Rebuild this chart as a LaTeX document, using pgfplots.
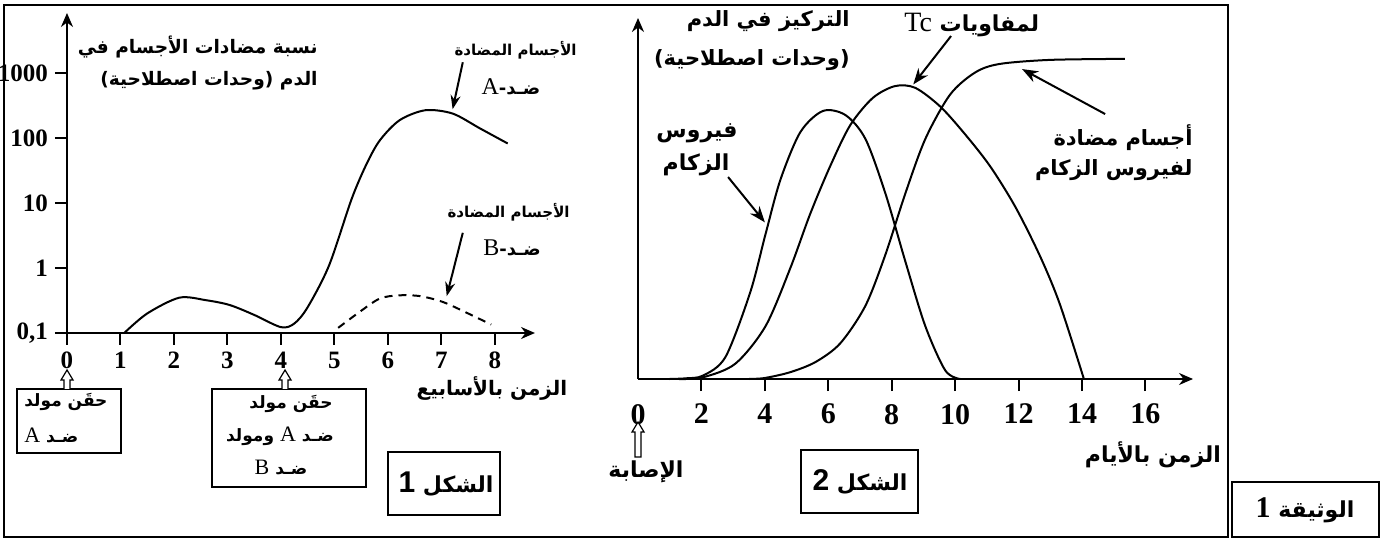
\documentclass[border=0pt]{standalone}
\usepackage{pgfplots}
\pgfplotsset{compat=1.18}
\usetikzlibrary{arrows.meta}
\usepackage{fontspec}
\setmainfont{Liberation Serif}
\newfontfamily\arfont[Script=Arabic]{DejaVu Sans}
\newfontfamily\digitsans{Liberation Sans}
\TeXXeTstate=1
\newcommand{\ar}[1]{{\arfont\bfseries\beginR #1\endR}}
\newcommand{\fs}[1]{\fontsize{#1}{#1}\selectfont}
\newcommand{\lat}[1]{{\rmfamily\mdseries #1}}

\begin{document}
\begin{tikzpicture}
% page = the 1386 x 539 pixel grid of the reference, 1 px = 0.5pt
\path[use as bounding box] (0pt,0pt) rectangle (693pt,-269.5pt);

% ---- figure 1: antibodies (log scale, weeks)
\begin{axis}[
  at={(33.5pt,-166.5pt)}, anchor=south west,
  width=234pt, height=160pt, scale only axis,
  xmin=0, xmax=8.75, ymode=log, ymin=0.1, ymax=8500,
  axis lines=left,
  axis line style={line width=1pt, -{Stealth[length=7pt,width=6pt]}},
  xtick={0,1,2,3,4,5,6,7,8},
  xticklabels={0,1,2,3,4,5,6,7,8},
  ytick={0.1,1,10,100,1000},
  yticklabels={0{,}1,1,10,100,1000},
  yminorticks=false,
  tick align=outside, major tick length=6pt,
  tick style={line width=1pt, black},
  ticklabel style={font=\fs{12.5}\bfseries},
  clip=false,
]
\addplot[smooth, line width=1pt] coordinates {
  (1.07,0.1) (1.5,0.2) (2.1,0.35) (2.6,0.32) (3.04,0.27) (3.5,0.19)
  (4.0,0.123) (4.25,0.14) (4.5,0.25) (4.9,1.1) (5.32,11.5) (5.6,40)
  (5.85,93) (6.22,190) (6.7,270) (7.21,240) (7.72,142) (8.24,83)};
\addplot[smooth, line width=1pt, dash pattern=on 4pt off 3pt] coordinates {
  (5.07,0.12) (5.5,0.22) (5.85,0.34) (6.2,0.38) (6.6,0.37) (7.03,0.3)
  (7.5,0.2) (7.93,0.135)};
\draw[line width=1pt, -{Stealth[length=7pt,width=5pt]}]
  (axis cs:7.4,1480) -- (axis cs:7.21,280);
\draw[line width=1pt, -{Stealth[length=7pt,width=5pt]}]
  (axis cs:7.4,3.5) -- (axis cs:7.1,0.37);
\end{axis}

% ---- figure 2: concentrations (days)
\begin{axis}[
  at={(319pt,-189.5pt)}, anchor=south west,
  width=277.5pt, height=180.5pt, scale only axis,
  xmin=0, xmax=17.5, ymin=0, ymax=10.6,
  axis lines=left,
  axis line style={line width=1pt, -{Stealth[length=7pt,width=6pt]}},
  xtick={2,4,6,8,10,12,14,16},
  xticklabels={2,4,6,8,10,12,14,16},
  extra x ticks={0}, extra x tick labels={0},
  extra x tick style={major tick length=0pt, xticklabel style={yshift=-6pt}},
  ytick=\empty,
  tick align=outside, major tick length=6pt,
  tick style={line width=1pt, black},
  ticklabel style={font=\fs{15}\bfseries},
  xticklabel style={yshift=-3pt},
  clip=false,
]
\addplot[smooth, line width=1pt] coordinates {
  (1.0,0) (1.5,0.02) (2.05,0.1) (2.76,0.65) (3.54,2.55) (4.02,4.25)
  (4.49,5.85) (5.12,7.25) (5.83,7.87) (6.54,7.75) (7.17,7.05) (7.8,5.45)
  (8.43,3.45) (9.06,1.55) (9.69,0.25) (10.16,0)};
\addplot[smooth, line width=1pt] coordinates {
  (1.3,0) (2.05,0.05) (3.07,0.45) (4.02,1.55) (4.8,3.25) (5.43,4.85)
  (6.06,6.25) (6.69,7.45) (7.4,8.25) (8.1,8.6) (8.74,8.55) (9.53,8.0)
  (10.3,7.2) (11.1,6.25) (11.9,5.05) (12.68,3.6) (13.3,2.2) (14.06,0)};
\addplot[smooth, line width=1pt] coordinates {
  (3.5,0) (4.0,0.03) (4.8,0.2) (5.6,0.5) (6.38,1.05) (7.17,2.15)
  (7.8,3.65) (8.43,5.45) (9.06,7.05) (9.84,8.35) (10.63,9.0) (11.4,9.25)
  (13,9.37) (15.35,9.4)};
\draw[line width=1pt, -{Stealth[length=8pt,width=6pt]}]
  (axis cs:9.87,10.07) -- (axis cs:8.68,8.65);
\draw[line width=1pt, -{Stealth[length=8pt,width=6pt]}]
  (axis cs:2.84,5.93) -- (axis cs:4.0,4.6);
\draw[line width=1pt, -{Stealth[length=8pt,width=6pt]}]
  (axis cs:14.73,7.78) -- (axis cs:12.11,9.1);
\end{axis}

% ---- frames and texts (pixel grid of the reference)
\begin{scope}[x=0.5pt, y=-0.5pt, every node/.style={inner sep=0pt}]
\draw[line width=1pt] (4,5) rectangle (1228,537);
\draw[line width=1pt] (1232,482) rectangle (1379,537);
\node[font=\fs{11}] at (1305,510) {\ar{الوثيقة {\rmfamily\fs{15}1}}};

% figure 1 texts
\node[anchor=east, align=right, font=\fs{9.3}] at (318,63)
  {\ar{نسبة مضادات الأجسام في}\\[6pt]\ar{الدم (\kern0pt وحدات اصطلاحية\kern0pt)}};
\node[anchor=east, font=\fs{7.5}] at (577,50) {\ar{الأجسام المضادة}};
\node[font=\fs{9}] at (511,87) {\ar{ضـد\kern0pt-\kern0pt\lat{\fs{12}A}}};
\node[anchor=east, font=\fs{7.5}] at (570,212) {\ar{الأجسام المضادة}};
\node[font=\fs{9}] at (512,248) {\ar{ضـد\kern0pt-\kern0pt\lat{\fs{12}B}}};
\node[font=\fs{10}] at (492,388) {\ar{الزمن بالأسابيع}};

\draw[line width=0.7pt] (17,389) rectangle (121,453);
\node[anchor=west, font=\fs{8.5}] at (24,402) {\ar{حقَن مولد}};
\node[anchor=west, font=\fs{8.5}] at (24,435) {\ar{ضـد \lat{\fs{11}A}}};
\draw[line width=0.7pt] (212,389) rectangle (366,487);
\node[font=\fs{8.5}] at (291,404) {\ar{حقَن مولد}};
\node[font=\fs{8.5}] at (280,436) {\ar{ضـد \lat{\fs{11}A} ومولد}};
\node[font=\fs{8.5}] at (281,468) {\ar{ضـد \lat{\fs{11}B}}};
\foreach \xa in {67,285}{
  \draw[line width=0.6pt, fill=white] (\xa-3,389) -- (\xa-3,380) -- (\xa-6,380)
    -- (\xa,370) -- (\xa+6,380) -- (\xa+3,380) -- (\xa+3,389);
}
\draw[line width=1pt] (388,452) rectangle (500,515);
\node[font=\fs{11}] at (446,484) {\ar{الشكل {\digitsans\fs{15}1}}};

% figure 2 texts
\node[anchor=east, align=right, font=\fs{10.5}] at (850,41)
  {\ar{التركيز في الدم}\\[8pt]\ar{(\kern0pt وحدات اصطلاحية\kern0pt)}};
\node[anchor=west, font=\fs{11}] at (904,25) {\ar{لمفاويات \lat{\fs{14}Tc}}};
\node[font=\fs{11}] at (697,133) {\ar{فيروس}};
\node[font=\fs{11}] at (696,165) {\ar{الزكام}};
\node[anchor=east, font=\fs{10.5}] at (1193,138) {\ar{أجسام مضادة}};
\node[anchor=east, font=\fs{10.5}] at (1193,170) {\ar{لفيروس الزكام}};
\node[font=\fs{11}] at (1153,455) {\ar{الزمن بالأيام}};
\draw[line width=0.6pt, fill=white] (635,457) -- (635,432) -- (632,432)
  -- (638,422) -- (644,432) -- (641,432) -- (641,457) -- cycle;
\node[font=\fs{11}] at (646,472) {\ar{الإصابة}};
\draw[line width=1pt] (801,450) rectangle (918,513);
\node[font=\fs{11}] at (860,482) {\ar{الشكل {\digitsans\fs{15}2}}};
\end{scope}
\end{tikzpicture}
\end{document}
